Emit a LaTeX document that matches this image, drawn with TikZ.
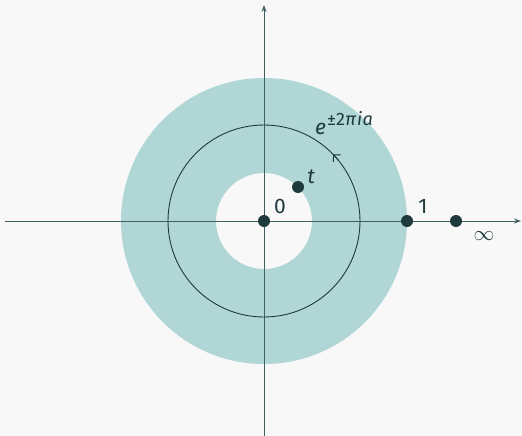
\documentclass[tikz,border=0pt]{standalone}
\usepackage{fontspec}
\setmainfont{Fira Sans}
\usetikzlibrary{arrows.meta,calc}
\definecolor{bg}{HTML}{F8F8F8}
\definecolor{ann}{HTML}{B0D6D6}
\definecolor{dk}{HTML}{1E3A3C}
\definecolor{ax}{HTML}{3F5F61}
\tikzset{
  dot/.style={circle,fill=dk,inner sep=0pt,minimum size=12},
  lbl/.style={text=dk,font=\fontsize{21}{24}\selectfont,inner sep=0pt},
  axis/.style={draw=ax,line width=1,-{Stealth[length=7,width=5]}}
}
\begin{document}
\begin{tikzpicture}[x=1pt,y=-1pt]
\fill[bg] (0,0) rectangle (522,436);
\useasboundingbox (0,0) rectangle (522,436);
\fill[ann,even odd rule] (264,221) circle (143) (264,221) circle (48);
\draw[axis] (5,221) -- (521,221);
\draw[axis] (264,436) -- (264,5);
\coordinate (c) at (264,221);
\draw[dk,line width=0.9] (c) circle (96);
\draw[dk,line width=0.9,-{Straight Barb[length=5,width=10]}] ($(c)+(-39:96)$) arc[start angle=-39,end angle=-44,radius=96];
\node[dot] (o) at (264,221) {};
\node[dot] (t) at (298,187) {};
\node[dot] (one) at (407,221) {};
\node[dot] (inf) at (456,221) {};
\node[lbl] (lo) at (280,206) {0};
\node[lbl] (lt) at (311,177) {\itshape t};
\node[lbl] (l1) at (423,206) {1};
\node[lbl] (li) at (484,236) {$\infty$};
\node[lbl,anchor=base west] (le) at (315,134) {\itshape e\raisebox{0.4em}{\fontsize{18}{20}\selectfont\upshape\kern1pt±2\itshape\kern0.5pt π\kern1pt i\kern0.5pt a}};
\end{tikzpicture}
\end{document}
